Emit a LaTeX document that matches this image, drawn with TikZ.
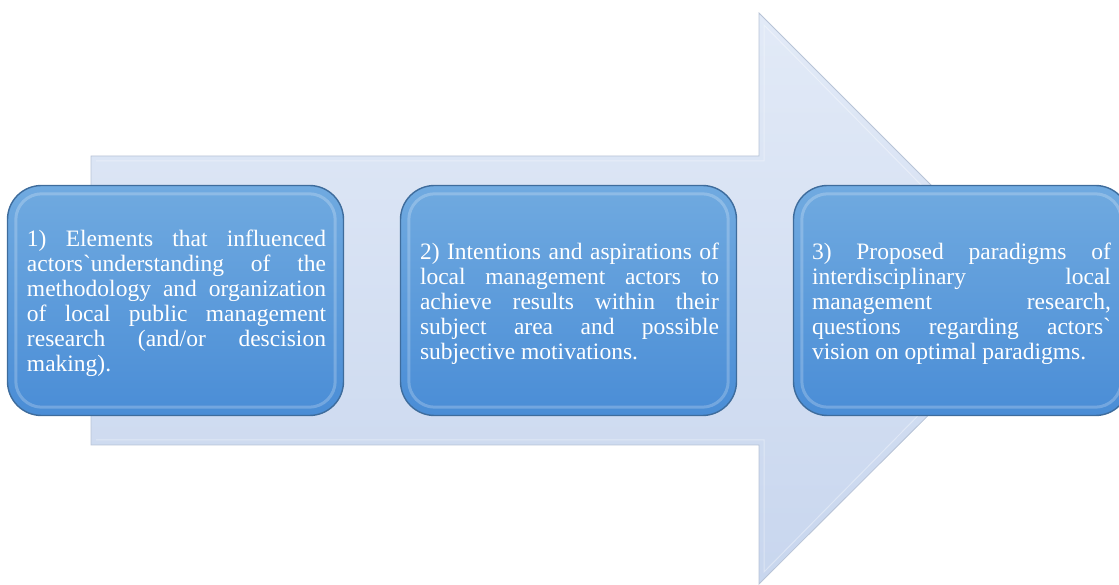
\documentclass[tikz,border=0pt]{standalone}
\usepackage{fontspec}
\setmainfont{Liberation Serif}[Ligatures=TeXOff]
\usetikzlibrary{calc}
\definecolor{arrtop}{HTML}{E2EAF7}
\definecolor{arrbot}{HTML}{C8D6EE}
\definecolor{arredge}{HTML}{B7C3D6}
\definecolor{boxtop}{HTML}{70AAE0}
\definecolor{boxbot}{HTML}{4A8DD6}
\definecolor{boxedge}{HTML}{3E6C9C}
\tikzset{
  bigarrow/.style={top color=arrtop, bottom color=arrbot, draw=arredge, line width=0.8pt},
  stage/.style={rectangle, rounded corners=34pt, minimum width=336pt, minimum height=230pt,
    top color=boxtop, bottom color=boxbot, draw=boxedge, line width=1.4pt,
    text=white, inner sep=0pt, align=left},
  bevel/.style={draw=white, draw opacity=0.22, line width=3pt, rounded corners=26pt},
  stagetext/.style={text=white, font=\fontsize{23.5}{25}\selectfont, align=left, inner sep=0pt},
}
\newcommand{\jline}[1]{\makebox[299pt][s]{#1}}
\newcommand{\lline}[1]{\makebox[299pt][l]{#1}}
\begin{document}
\begin{tikzpicture}[x=1pt,y=1pt]
\useasboundingbox (0,0) rectangle (1119,584);
\clip (0,0) rectangle (1119,584);
\path[bigarrow] (91,428) -- (759,428) -- (759,571) -- (1045,285)
  -- (759,0) -- (759,139) -- (91,139) -- cycle;
\draw[white, opacity=0.35, line width=1pt] (96,423) -- (764,423) -- (764,559) -- (1033,285) -- (764,12) -- (764,144) -- (96,144);
\foreach \n/\cx in {b1/175.5, b2/568.5, b3/961.5} {
  \node[stage] (\n) at (\cx,283.5) {};
  \draw[bevel] ($(\n.south west)+(9,9)$) rectangle ($(\n.north east)+(-9,-9)$);
}
\node[stagetext] (t1) at ($(b1.center)+(1,-3)$) {%
\jline{1) Elements that influenced}\\
\jline{actors`understanding of the}\\
\jline{methodology and organization}\\
\jline{of local public management}\\
\jline{research (and/or descision}\\
\lline{making).}};
\node[stagetext] (t2) at ($(b2.center)+(1,-3)$) {%
\jline{2) Intentions and aspirations of}\\
\jline{local management actors to}\\
\jline{achieve results within their}\\
\jline{subject area and possible}\\
\lline{subjective motivations.}};
\node[stagetext] (t3) at ($(b3.center)+(0,-3)$) {%
\jline{3) Proposed paradigms of}\\
\jline{interdisciplinary local}\\
\jline{management research,}\\
\jline{questions regarding actors`}\\
\lline{vision on optimal paradigms.}};
\end{tikzpicture}
\end{document}
